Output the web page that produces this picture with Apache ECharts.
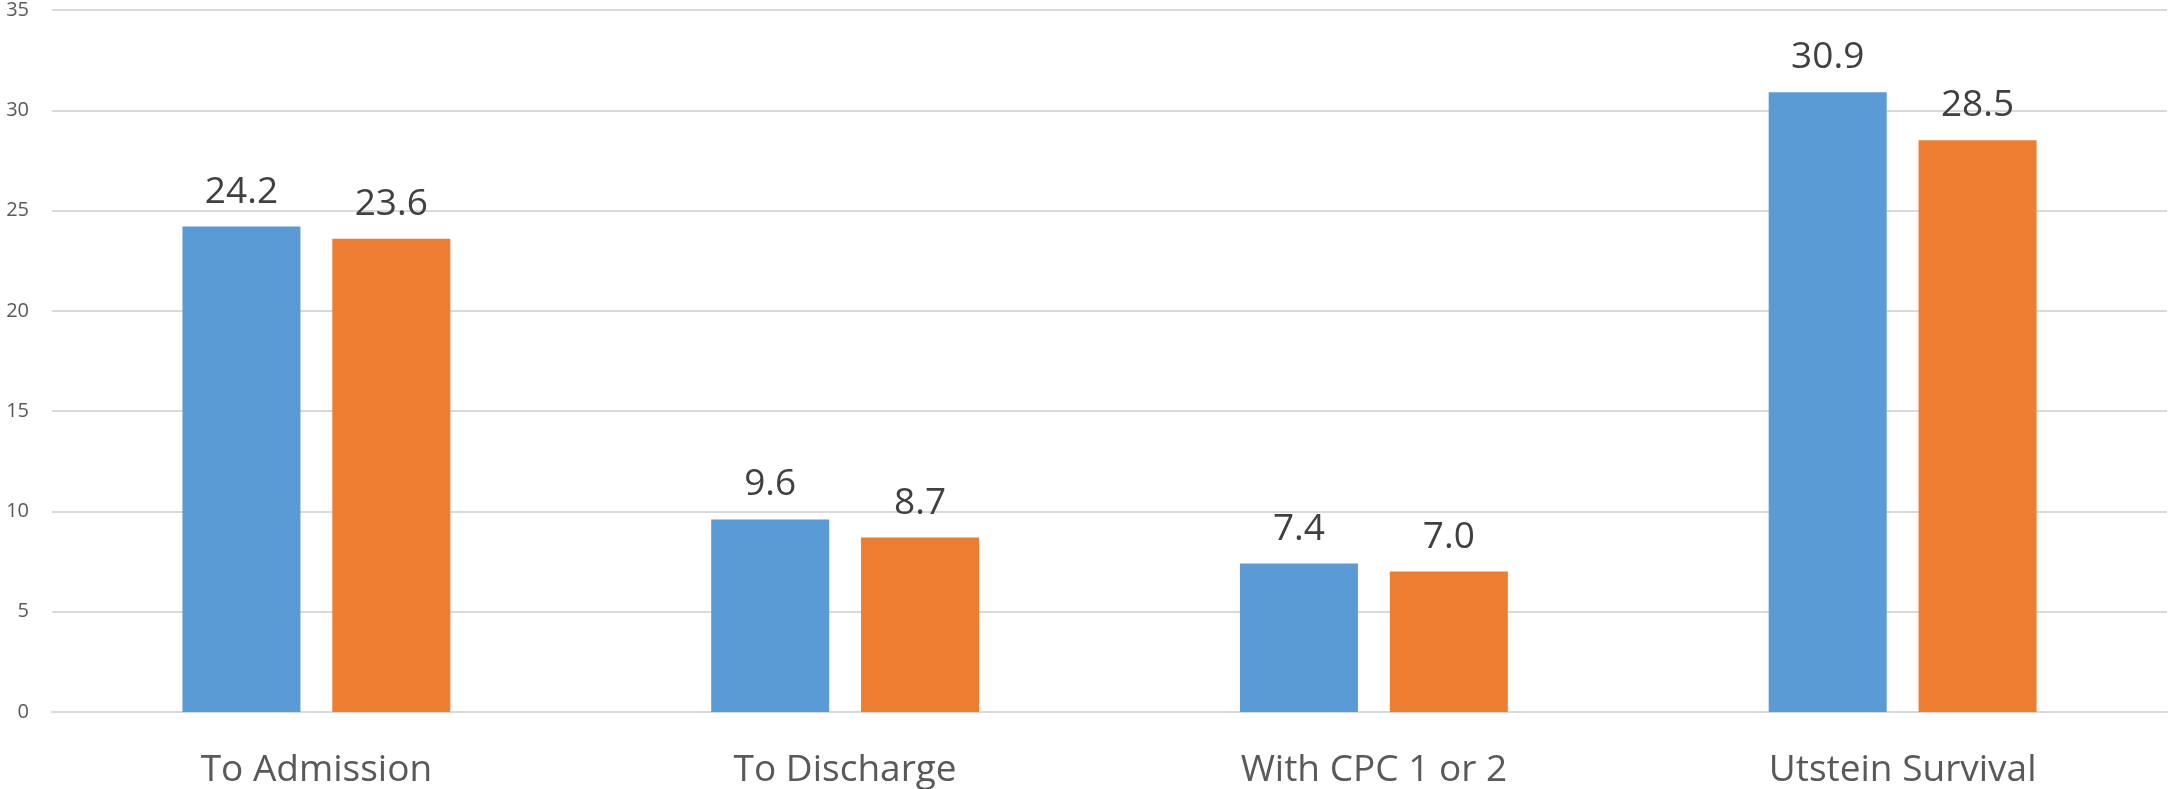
<!DOCTYPE html>
<html>
<head>
<meta charset="utf-8">
<script src="https://cdn.jsdelivr.net/npm/echarts@6/dist/echarts.min.js"></script>
<style>
  html, body { margin: 0; padding: 0; background: #fff; }
  #chart { width: 2168px; height: 789px; }
</style>
</head>
<body>
<div id="chart"></div>
<script>
// categories and values
const categories = ['To Admission', 'To Discharge', 'With CPC 1 or 2', 'Utstein Survival']
const seriesA = [24.2, 9.6, 7.4, 30.9]
const seriesB = [23.6, 8.7, 7.0, 28.5]

const chart = echarts.init(document.getElementById('chart'))
const labelStyle = {
  show: true,
  position: 'top',
  distance: 16,
  fontFamily: 'Open Sans',
  fontSize: 37,
  color: '#404040',
  formatter: p => p.value.toFixed(1)
}
chart.setOption({
  animation: false,
  grid: { left: 52, right: 1, top: 10, bottom: 76, containLabel: false },
  xAxis: {
    type: 'category',
    data: categories,
    axisLine: { lineStyle: { color: '#d9d9d9', width: 2 } },
    axisTick: { show: false },
    axisLabel: { fontFamily: 'Open Sans', fontSize: 37, color: '#595959', margin: 40 }
  },
  yAxis: {
    type: 'value',
    min: 0,
    max: 35,
    interval: 5,
    axisLine: { show: false },
    axisTick: { show: false },
    axisLabel: { fontFamily: 'Open Sans', fontSize: 20, color: '#595959', margin: 23 },
    splitLine: { lineStyle: { color: '#d9d9d9', width: 2 } }
  },
  series: [
    {
      name: 'A',
      type: 'bar',
      data: seriesA,
      barWidth: 118,
      barGap: '27%',
      itemStyle: { color: '#5b9bd5' },
      label: labelStyle
    },
    {
      name: 'B',
      type: 'bar',
      data: seriesB,
      barWidth: 118,
      itemStyle: { color: '#ed7d31' },
      label: labelStyle
    }
  ]
})
</script>
</body>
</html>
